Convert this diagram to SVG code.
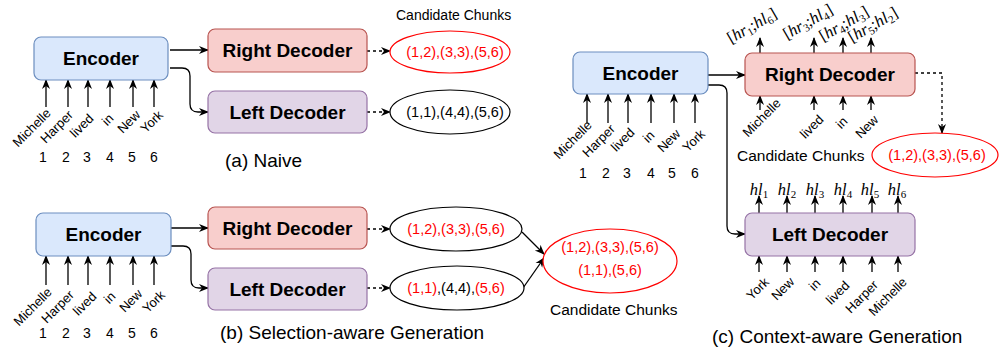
<svg xmlns="http://www.w3.org/2000/svg" width="999" height="352" viewBox="0 0 999 352">
<defs>
<marker id="ah" markerWidth="10" markerHeight="10" refX="9" refY="5" orient="auto" markerUnits="userSpaceOnUse">
<path d="M0,1 L10,5 L0,9 L3,5 z" fill="#000"/>
</marker>
</defs>
<style>
text{font-family:"Liberation Sans",Arial,sans-serif;fill:#000}
.enc{fill:#dae8fc;stroke:#6c8ebf;stroke-width:1.2}
.rd{fill:#f8cecc;stroke:#b85450;stroke-width:1.2}
.ld{fill:#e1d5e7;stroke:#9673a6;stroke-width:1.2}
.bt{font-size:19px;font-weight:bold;text-anchor:middle}
.w{font-size:13px;text-anchor:middle}
.num{font-size:14px;text-anchor:middle}
.cap{font-size:19px}
.cc{font-size:14px}
.cc2{font-size:15.5px}
.et{font-size:14.5px;text-anchor:middle}
.red{fill:#ff0000}
.ell{fill:#fff;stroke:#000;stroke-width:1.2}
.rell{fill:#fff;stroke:#ff0000;stroke-width:1.2}
.c{fill:none;stroke:#000;stroke-width:1.3}
.cd{fill:none;stroke:#000;stroke-width:1.3;stroke-dasharray:3 3}
.m{font-family:"Liberation Serif","DejaVu Serif",serif;font-style:italic;font-size:16.5px}
.mu{font-style:normal}
.sub{font-size:11px;font-style:normal}
</style>

<g id="connectors">
<!-- (a) -->
<path class="c" d="M170,50 H208" marker-end="url(#ah)"/>
<path class="c" d="M170,68 H182 Q190,68 190,76 V104 Q190,112 198,112 H208" marker-end="url(#ah)"/>
<path class="cd" d="M367,51 H390" marker-end="url(#ah)"/>
<path class="cd" d="M367,112 H390" marker-end="url(#ah)"/>
<path class="c" d="M46,107 V80" marker-end="url(#ah)"/>
<path class="c" d="M68,107 V80" marker-end="url(#ah)"/>
<path class="c" d="M88,107 V80" marker-end="url(#ah)"/>
<path class="c" d="M110,107 V80" marker-end="url(#ah)"/>
<path class="c" d="M133,107 V80" marker-end="url(#ah)"/>
<path class="c" d="M154,107 V80" marker-end="url(#ah)"/>
<!-- (b) -->
<path class="c" d="M171,228 H208" marker-end="url(#ah)"/>
<path class="c" d="M171,246 H183 Q191,246 191,254 V280 Q191,288 199,288 H208" marker-end="url(#ah)"/>
<path class="cd" d="M367,229 H390" marker-end="url(#ah)"/>
<path class="cd" d="M367,288 H390" marker-end="url(#ah)"/>
<path class="c" d="M522,232 L544,254" marker-end="url(#ah)"/>
<path class="c" d="M523,288 L544,258" marker-end="url(#ah)"/>
<path class="c" d="M46,285 V256" marker-end="url(#ah)"/>
<path class="c" d="M68,285 V256" marker-end="url(#ah)"/>
<path class="c" d="M88,285 V256" marker-end="url(#ah)"/>
<path class="c" d="M110,285 V256" marker-end="url(#ah)"/>
<path class="c" d="M133,285 V256" marker-end="url(#ah)"/>
<path class="c" d="M154,285 V256" marker-end="url(#ah)"/>
<!-- (c) -->
<path class="c" d="M708,75 H745" marker-end="url(#ah)"/>
<path class="c" d="M708,85 H719 Q727,85 727,93 V226 Q727,234 735,234 H745" marker-end="url(#ah)"/>
<path class="cd" d="M915,73 H942 V133" marker-end="url(#ah)"/>
<path class="c" d="M587,123 V94" marker-end="url(#ah)"/>
<path class="c" d="M608,123 V94" marker-end="url(#ah)"/>
<path class="c" d="M628,123 V94" marker-end="url(#ah)"/>
<path class="c" d="M651,123 V94" marker-end="url(#ah)"/>
<path class="c" d="M674,123 V94" marker-end="url(#ah)"/>
<path class="c" d="M695,123 V94" marker-end="url(#ah)"/>
<path class="c" d="M760,53 V38" marker-end="url(#ah)"/>
<path class="c" d="M814,53 V38" marker-end="url(#ah)"/>
<path class="c" d="M843,53 V38" marker-end="url(#ah)"/>
<path class="c" d="M871,53 V38" marker-end="url(#ah)"/>
<path class="c" d="M760,110 V96" marker-end="url(#ah)"/>
<path class="c" d="M814,110 V96" marker-end="url(#ah)"/>
<path class="c" d="M843,110 V96" marker-end="url(#ah)"/>
<path class="c" d="M871,110 V96" marker-end="url(#ah)"/>
<path class="c" d="M759,213 V196" marker-end="url(#ah)"/>
<path class="c" d="M787,213 V196" marker-end="url(#ah)"/>
<path class="c" d="M815,213 V196" marker-end="url(#ah)"/>
<path class="c" d="M843,213 V196" marker-end="url(#ah)"/>
<path class="c" d="M872,213 V196" marker-end="url(#ah)"/>
<path class="c" d="M898,213 V196" marker-end="url(#ah)"/>
<path class="c" d="M759,272 V256" marker-end="url(#ah)"/>
<path class="c" d="M787,272 V256" marker-end="url(#ah)"/>
<path class="c" d="M815,272 V256" marker-end="url(#ah)"/>
<path class="c" d="M843,272 V256" marker-end="url(#ah)"/>
<path class="c" d="M872,272 V256" marker-end="url(#ah)"/>
<path class="c" d="M898,272 V256" marker-end="url(#ah)"/>
</g>

<!-- (a) Naive -->
<g id="a-encoder"><rect class="enc" x="34" y="37" width="134" height="43" rx="7"/><text class="bt" x="101" y="65">Encoder</text></g>
<g id="a-right"><rect class="rd" x="208" y="29" width="159" height="43" rx="7"/><text class="bt" x="287.5" y="57">Right Decoder</text></g>
<g id="a-left"><rect class="ld" x="208" y="91" width="159" height="42" rx="7"/><text class="bt" x="287.5" y="119">Left Decoder</text></g>
<g id="a-cand-r"><ellipse class="rell" cx="450" cy="52" rx="60" ry="21"/><text class="et red" x="455" y="57">(1,2),(3,3),(5,6)</text></g>
<g id="a-cand-l"><ellipse class="ell" cx="450" cy="112" rx="60" ry="22"/><text class="et" x="455" y="117">(1,1),(4,4),(5,6)</text></g>
<g id="a-words">
<text class="w" transform="translate(32,128) rotate(-45)" y="4">Michelle</text>
<text class="w" transform="translate(57,127) rotate(-45)" y="4">Harper</text>
<text class="w" transform="translate(82,126) rotate(-45)" y="4">lived</text>
<text class="w" transform="translate(108,120) rotate(-45)" y="4">in</text>
<text class="w" transform="translate(129,122) rotate(-45)" y="4">New</text>
<text class="w" transform="translate(152,122) rotate(-45)" y="4">York</text>
<text class="num" x="43" y="162">1</text><text class="num" x="66" y="162">2</text><text class="num" x="87" y="162">3</text><text class="num" x="110" y="162">4</text><text class="num" x="132" y="162">5</text><text class="num" x="154" y="162">6</text>
</g>
<text class="cc" x="396" y="20">Candidate Chunks</text>
<text class="cap" x="225" y="167">(a) Naive</text>

<!-- (b) Selection-aware -->
<g id="b-encoder"><rect class="enc" x="36" y="213" width="135" height="43" rx="7"/><text class="bt" x="103.5" y="241">Encoder</text></g>
<g id="b-right"><rect class="rd" x="208" y="207" width="159" height="42" rx="7"/><text class="bt" x="287.5" y="235">Right Decoder</text></g>
<g id="b-left"><rect class="ld" x="208" y="268" width="159" height="42" rx="7"/><text class="bt" x="287.5" y="296">Left Decoder</text></g>
<g id="b-cand-r"><ellipse class="ell" cx="456" cy="229" rx="66" ry="22"/><text class="et red" x="456" y="234">(1,2),(3,3),(5,6)</text></g>
<g id="b-cand-l"><ellipse class="ell" cx="457" cy="288" rx="67" ry="22"/><text class="et" x="456" y="293"><tspan class="red">(1,1)</tspan>,(4,4),<tspan class="red">(5,6)</tspan></text></g>
<g id="b-merged"><ellipse class="rell" cx="610" cy="261" rx="67" ry="32"/><text class="et red" x="610" y="252">(1,2),(3,3),(5,6)</text><text class="et red" x="610" y="275">(1,1),(5,6)</text></g>
<g id="b-words">
<text class="w" transform="translate(33,307) rotate(-45)" y="4">Michelle</text>
<text class="w" transform="translate(58,307) rotate(-45)" y="4">Harper</text>
<text class="w" transform="translate(85,304) rotate(-45)" y="4">lived</text>
<text class="w" transform="translate(110,298) rotate(-45)" y="4">in</text>
<text class="w" transform="translate(131,301) rotate(-45)" y="4">New</text>
<text class="w" transform="translate(154,302) rotate(-45)" y="4">York</text>
<text class="num" x="43" y="338">1</text><text class="num" x="66" y="338">2</text><text class="num" x="87" y="338">3</text><text class="num" x="110" y="338">4</text><text class="num" x="132" y="338">5</text><text class="num" x="154" y="338">6</text>
</g>
<text class="cc2" x="550" y="315">Candidate Chunks</text>
<text class="cap" x="220" y="339">(b) Selection-aware Generation</text>

<!-- (c) Context-aware -->
<g id="c-encoder"><rect class="enc" x="573" y="52" width="135" height="42" rx="7"/><text class="bt" x="640.5" y="80">Encoder</text></g>
<g id="c-right"><rect class="rd" x="745" y="53" width="170" height="43" rx="7"/><text class="bt" x="830" y="81">Right Decoder</text></g>
<g id="c-left"><rect class="ld" x="745" y="213" width="170" height="43" rx="7"/><text class="bt" x="830" y="241">Left Decoder</text></g>
<g id="c-cand"><ellipse class="rell" cx="935" cy="155" rx="63" ry="22"/><text class="et red" x="937" y="160">(1,2),(3,3),(5,6)</text></g>
<g id="c-words">
<text class="w" transform="translate(573,140) rotate(-45)" y="4">Michelle</text>
<text class="w" transform="translate(599,141) rotate(-45)" y="4">Harper</text>
<text class="w" transform="translate(623,140) rotate(-45)" y="4">lived</text>
<text class="w" transform="translate(649,137) rotate(-45)" y="4">in</text>
<text class="w" transform="translate(669,141) rotate(-45)" y="4">New</text>
<text class="w" transform="translate(694,141) rotate(-45)" y="4">York</text>
<text class="num" x="583" y="178">1</text><text class="num" x="606" y="178">2</text><text class="num" x="627" y="178">3</text><text class="num" x="651" y="178">4</text><text class="num" x="672" y="178">5</text><text class="num" x="695" y="178">6</text>
</g>
<g id="c-right-words">
<text class="w" transform="translate(762,118) rotate(-45)" y="4">Michelle</text>
<text class="w" transform="translate(812,127) rotate(-45)" y="4">lived</text>
<text class="w" transform="translate(842,123) rotate(-45)" y="4">in</text>
<text class="w" transform="translate(867,127) rotate(-45)" y="4">New</text>
</g>
<g id="c-right-out">
<text class="m" text-anchor="middle" transform="translate(752,26) rotate(-30)" y="5"><tspan class="mu">[</tspan>hr<tspan class="sub" dy="3">1</tspan><tspan class="mu" dy="-3">;</tspan>hl<tspan class="sub" dy="3">6</tspan><tspan class="mu" dy="-3">]</tspan></text>
<text class="m" text-anchor="middle" transform="translate(808,22) rotate(-30)" y="5"><tspan class="mu">[</tspan>hr<tspan class="sub" dy="3">3</tspan><tspan class="mu" dy="-3">;</tspan>hl<tspan class="sub" dy="3">4</tspan><tspan class="mu" dy="-3">]</tspan></text>
<text class="m" text-anchor="middle" transform="translate(844,24) rotate(-30)" y="5"><tspan class="mu">[</tspan>hr<tspan class="sub" dy="3">4</tspan><tspan class="mu" dy="-3">;</tspan>hl<tspan class="sub" dy="3">3</tspan><tspan class="mu" dy="-3">]</tspan></text>
<text class="m" text-anchor="middle" transform="translate(873,25) rotate(-30)" y="5"><tspan class="mu">[</tspan>hr<tspan class="sub" dy="3">5</tspan><tspan class="mu" dy="-3">;</tspan>hl<tspan class="sub" dy="3">2</tspan><tspan class="mu" dy="-3">]</tspan></text>
</g>
<g id="c-left-out">
<text class="m" text-anchor="middle" x="759" y="195">hl<tspan class="sub" dy="3">1</tspan></text>
<text class="m" text-anchor="middle" x="787" y="195">hl<tspan class="sub" dy="3">2</tspan></text>
<text class="m" text-anchor="middle" x="815" y="195">hl<tspan class="sub" dy="3">3</tspan></text>
<text class="m" text-anchor="middle" x="843" y="195">hl<tspan class="sub" dy="3">4</tspan></text>
<text class="m" text-anchor="middle" x="870" y="195">hl<tspan class="sub" dy="3">5</tspan></text>
<text class="m" text-anchor="middle" x="897" y="195">hl<tspan class="sub" dy="3">6</tspan></text>
</g>
<g id="c-left-words">
<text class="w" transform="translate(758,289) rotate(-45)" y="4">York</text>
<text class="w" transform="translate(783,289) rotate(-45)" y="4">New</text>
<text class="w" transform="translate(815,285) rotate(-45)" y="4">in</text>
<text class="w" transform="translate(838,293) rotate(-45)" y="4">lived</text>
<text class="w" transform="translate(862,297) rotate(-45)" y="4">Harper</text>
<text class="w" transform="translate(888,297) rotate(-45)" y="4">Michelle</text>
</g>
<text class="cc2" x="737" y="161">Candidate Chunks</text>
<text class="cap" x="712" y="343">(c) Context-aware Generation</text>
</svg>
